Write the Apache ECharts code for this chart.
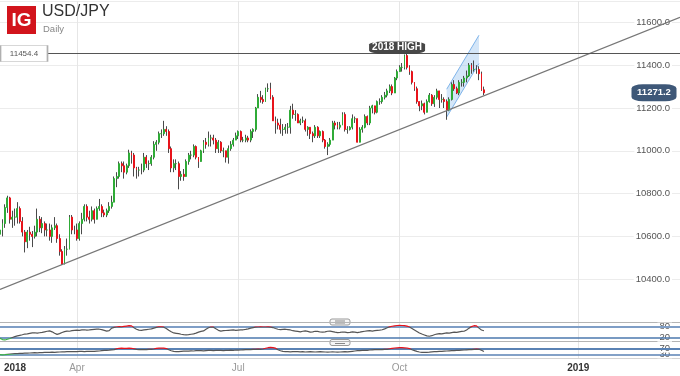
<!DOCTYPE html>
<html><head><meta charset="utf-8">
<script src="https://cdn.jsdelivr.net/npm/echarts@6/dist/echarts.min.js"></script>
<style>html,body{margin:0;padding:0;background:#fff}#c{width:680px;height:376px}</style>
</head><body><div id="c"></div>
<script>
// ---------------- DATA ----------------
const historyStart = '2018-02-16';   // first trading day shown
const futureStart = '2018-11-19';    // empty future space
const totalSlots = 275;
const firstOpen = 10610;
const closes = [
10630,10660,10735,10780,10680,10690,10690,10730,10670,10620,
10575,10620,10610,10600,10620,10680,10640,10660,10630,10630,
10600,10640,10650,10590,10530,10470,10540,10540,10690,10630,
10630,10590,10660,10680,10740,10690,10680,10720,10680,10730,
10740,10710,10700,10720,10740,10760,10870,10880,10940,10930,
10900,10930,10990,10980,10920,10910,10910,10910,10970,10940,
10940,10970,11030,11040,11080,11080,11100,11090,11010,10920,
10940,10940,10880,10890,10880,10950,10980,10980,11020,10970,
10950,11000,11040,11030,11060,11060,11050,11010,11040,11000,
11000,10970,11010,11030,11050,11070,11090,11050,11050,11060,
11050,11090,11100,11200,11250,11240,11230,11290,11290,11250,
11140,11130,11120,11100,11100,11110,11110,11190,11170,11170,
11130,11140,11140,11100,11110,11080,11070,11110,11070,11090,
11050,11020,11030,11050,11130,11120,11110,11120,11170,11100,
11100,11110,11150,11150,11040,11100,11110,11160,11130,11200,
11210,11180,11230,11230,11250,11260,11280,11300,11270,11340,
11370,11390,11390,11445,11390,11370,11320,11290,11230,11210,
11220,11180,11230,11260,11220,11250,11280,11240,11240,11230,
11190,11240,11310,11290,11270,11320,11320,11340,11350,11400,
11380,11380,11380,11360,11285,11271.2];
const highs = [
10645,10680,10750,10790,10785,10720,10730,10760,10740,10690,
10630,10630,10645,10625,10650,10730,10695,10690,10670,10660,
10660,10655,10690,10660,10610,10540,10555,10590,10700,10700,
10650,10660,10670,10710,10750,10750,10720,10740,10730,10740,
10775,10750,10725,10730,10760,10790,10880,10900,10950,10950,
10950,10940,11005,11000,10990,10925,10925,10940,10990,10980,
10955,10980,11045,11050,11090,11100,11140,11115,11100,11020,
10960,10960,10950,10905,10915,10960,10990,11000,11030,11025,
10970,11005,11050,11060,11090,11075,11075,11060,11050,11045,
11015,11000,11025,11045,11060,11085,11095,11095,11065,11075,
11070,11100,11105,11205,11265,11280,11260,11295,11315,11318,
11260,11160,11150,11150,11125,11125,11130,11210,11220,11190,
11175,11150,11160,11150,11115,11110,11090,11120,11115,11095,
11095,11055,11040,11060,11140,11140,11135,11135,11180,11180,
11115,11115,11170,11160,11150,11110,11120,11170,11165,11210,
11215,11210,11235,11245,11260,11275,11290,11310,11310,11345,
11380,11400,11410,11450,11454,11400,11375,11320,11300,11230,
11235,11225,11240,11270,11265,11260,11290,11280,11265,11250,
11240,11250,11320,11330,11300,11330,11335,11350,11375,11410,
11410,11422,11400,11395,11370,11300];
const lows = [
10555,10600,10640,10710,10660,10640,10650,10660,10660,10600,
10525,10545,10580,10550,10590,10600,10620,10615,10600,10600,
10580,10570,10630,10570,10510,10467,10470,10510,10540,10610,
10610,10580,10580,10610,10670,10670,10660,10670,10660,10680,
10720,10690,10690,10690,10710,10730,10760,10830,10870,10900,
10870,10890,10920,10940,10880,10870,10880,10890,10900,10920,
10910,10930,10960,11000,11030,11060,11070,11070,10990,10900,
10900,10910,10820,10860,10860,10880,10935,10960,10970,10960,
10920,10950,10990,11010,11020,11020,11030,10990,10990,10990,
10970,10945,10940,11000,11020,11050,11055,11040,11040,11040,
11040,11040,11060,11090,11200,11225,11220,11230,11275,11240,
11140,11080,11100,11080,11070,11080,11080,11080,11150,11140,
11130,11120,11130,11090,11070,11055,11040,11060,11060,11060,
11040,11010,10980,11020,11050,11100,11100,11100,11120,11090,
11080,11095,11100,11130,11040,11040,11085,11105,11120,11120,
11175,11170,11175,11215,11220,11240,11250,11270,11260,11270,
11330,11370,11370,11380,11380,11355,11310,11280,11220,11185,
11190,11170,11180,11225,11210,11205,11240,11200,11225,11200,
11145,11185,11235,11280,11265,11260,11300,11300,11320,11345,
11360,11370,11360,11330,11280,11260];
const osc1 = [
17,10,8,12,16,21, 26,30,33,36,40,41, 44,46,47,45,47,49,52,55, 57,52,44,38,
42,48,53,56,55,58,60, 61,60,62,63,61,62,64,65,66, 66,64,60,56,58,
72,76,78,80,79,81,83,85,84, 74,66,61,60,62,64,66, 68,72,76,79,79,77,
70,60,52,46,44, 42,39,37,36,37, 39,41,45,50,54,57, 66,74,78,77, 68,60,56,58,59,
60,61,62,60,61,62,63,65,68, 72,75,77,78,79,78,78,79,77,75, 70,66,64,65,66,64,62,
58,56,54,52,55,57,54,50,52,55,54,51,50,52,55,56, 53,50,48,49,51,50,48,49,52,50,48,50,
53,55,57,58,56,58,60,61,63, 68,74,79,82,84,86,87,86,85,83, 78,70,62,54,46,40,35,
30,28,31, 36,40,42,41,44,46,45,48,50,49,52,54,55, 62,72,80,85,84, 72,62,58];
const osc2 = [
28,26,27,29,31,33, 34,35,36,37,38,38,39,40,41,40,41,42,43,43,44,45,44,45,
46,47,47,48,48,49,48,49,50,50,49,50,51,50,51,52,53, 55,57,58,59,61,63,
68,72,73,72,71,73,72,68, 64,62,63,63,62,64,65,67, 71,73,74,73,70,62, 55,50,48,49,
51,52,53,52,54,53,55,56,55,54,56,57,58,56,57,58,57,56,58,57,59,58,60,59,60,61,62,63,
63,64,65,66,65,67, 72,76,78,77,73,
62,55,50,49,48,47,48,48,49,47,48,46,47,48,47,46,47,48,
47,46,45,46,47,46,45,46,47,48,47,49,
51,53,55,56,57,58,58,60,61,62,63,62,63,64,65,68,
72,74,75,76,76,75,74,70, 62,56,50,46,44,43,44,45,
47,48,49,50,51,52,53,54,55,56,57,58,59,60,61,62,63, 65,66,65,58,49];
const tickDates = ['2018-04-02','2018-07-02','2018-10-01','2019-01-01'];
const tickLabels = ['Apr','Jul','Oct','2019'];
const yMin = 10200, yMax = 11700, yStep = 200;
const highLevel = 11454.4;
const highText = '2018 HIGH';
const highTextDate = '2018-09-28';
const trendValues = [10352, 11624];          // at first and last slot
const channelDates = ['2018-10-26','2018-11-14'];
const channelUpper = [11288, 11540];
const channelLower = [11158, 11408];
const osc1Levels = [80, 20];
const osc2Levels = [70, 30];

// ---------------- BUILD ----------------
const FONT = '"Liberation Sans", Arial, Helvetica, sans-serif';
const categories = [];
(function(){
  let d = new Date(historyStart + 'T00:00:00Z');
  while (categories.length < closes.length) {
    const w = d.getUTCDay();
    if (w !== 0 && w !== 6) categories.push(d.toISOString().slice(0,10));
    d.setUTCDate(d.getUTCDate()+1);
  }
  d = new Date(futureStart + 'T00:00:00Z');
  while (categories.length < totalSlots) {
    if (d.getUTCDay() !== 0) categories.push(d.toISOString().slice(0,10));
    d.setUTCDate(d.getUTCDate()+1);
  }
})();
const tickMap = {};
tickDates.forEach((d,k)=>{ tickMap[d] = tickLabels[k]; });
const lastCat = categories[categories.length-1];
const opens = closes.map((c,i)=> i===0 ? firstOpen : closes[i-1]);
const wickData = closes.map((c,i)=>[lows[i], highs[i], lows[i], highs[i]]);
const bodyData = closes.map((c,i)=>[opens[i], c, Math.min(opens[i],c), Math.max(opens[i],c)]);
const lastClose = closes[closes.length-1];

const splitInt = (i, v) => tickMap[v] !== undefined;
function xAx(grid, lineColor, showLabel){
  return {
    gridIndex: grid, type:'category', data: categories, boundaryGap:false,
    axisLine:{show:true, lineStyle:{color:lineColor, width:1}},
    axisTick:{show:false},
    splitLine:{show:true, interval: splitInt, lineStyle:{color:'#e6e6e6', width:1}},
    axisLabel: showLabel ? {
      show:true, margin:5, interval:(i,v)=> i===0 || tickMap[v]!==undefined,
      formatter:(v,i)=>{
        if (i===0) return '{first|' + v.slice(0,4) + '}';
        const t = tickMap[v];
        return /^\d{4}$/.test(t) ? '{yr|'+t+'}' : '{mo|'+t+'}';
      },
      rich:{
        first:{color:'#333', fontWeight:'bold', fontSize:10, fontFamily:FONT, padding:[0,0,0,30]},
        yr:{color:'#333', fontWeight:'bold', fontSize:10, fontFamily:FONT},
        mo:{color:'#999', fontSize:10, fontFamily:FONT}
      }
    } : {show:false}
  };
}
function paneY(grid, mn, mx, vals, show){
  return {gridIndex:grid, type:'value', position:'right', min:mn, max:mx, show: show!==false,
    axisLine:{show:false}, axisTick:{show:false}, splitLine:{show:false},
    axisLabel:{inside:true, margin:8, customValues: vals, hideOverlap:false,
      color:'#555', fontSize:9.5, lineHeight:8, fontFamily:FONT, backgroundColor:'#fff', padding:[0,2]}};
}
function oscSeries(xi, data, levels, colors){
  return {type:'line', xAxisIndex:xi, yAxisIndex:xi, data: data.map((v,i)=>[categories[i], v]),
    symbol:'none', lineStyle:{width:1.2}, silent:true, z:3,
    markLine:{silent:true, symbol:['none','none'], label:{show:false}, animation:false, z:2,
      data:[{yAxis:levels[0], lineStyle:{color:colors[0], width:2, type:'solid'}},
            {yAxis:levels[1], lineStyle:{color:colors[1], width:1.5, type:'solid'}}]}};
}

const chart = echarts.init(document.getElementById('c'));
chart.setOption({
  animation:false,
  backgroundColor:'#fff',
  textStyle:{fontFamily:FONT},
  grid:[
    {left:0, right:0, top:1, height:321},
    {left:0, right:0, top:322, height:20},
    {left:0, right:0, top:342, height:16}
  ],
  xAxis:[ xAx(0,'#b4b4b4',false), xAx(1,'#b4b4b4',false), xAx(2,'#d4d4d4',true) ],
  yAxis:[
    {gridIndex:0, type:'value', position:'right', min:yMin, max:yMax, interval:yStep,
      axisLine:{show:false}, axisTick:{show:false},
      splitLine:{lineStyle:{color:'#ececec'}},
      axisLabel:{inside:true, margin:8, showMinLabel:false, showMaxLabel:false, color:'#555', fontSize:9.5, fontFamily:FONT,
        backgroundColor:'#fff', padding:[0,2], formatter:v=> (v===yMin||v===yMax) ? '' : v.toFixed(1)}},
    paneY(1, -3, 105, osc1Levels),
    paneY(2, 4, 116, [osc2Levels[1]]),
    paneY(2, 4, 116, [osc2Levels[0]])
  ],
  visualMap:[
    {show:false, type:'piecewise', seriesIndex:5, dimension:1,
      pieces:[{gt:osc1Levels[0], color:'#e8131b'},{lt:osc1Levels[1], color:'#3cb043'},{gte:osc1Levels[1], lte:osc1Levels[0], color:'#555'}]},
    {show:false, type:'piecewise', seriesIndex:6, dimension:1,
      pieces:[{gt:osc2Levels[0], color:'#e8131b'},{lt:osc2Levels[1], color:'#3cb043'},{gte:osc2Levels[1], lte:osc2Levels[0], color:'#555'}]}
  ],
  series:[
    {type:'candlestick', xAxisIndex:0, yAxisIndex:0, data:wickData, barWidth:0.5, silent:true, z:2,
      itemStyle:{color:'#4a4a4a', color0:'#4a4a4a', borderColor:'#4a4a4a', borderColor0:'#4a4a4a', borderWidth:1},
      markLine:{silent:true, symbol:['none','none'], label:{show:false}, animation:false,
        lineStyle:{color:'#555', width:1, type:'solid'}, data:[{yAxis:highLevel}]}},
    {type:'candlestick', xAxisIndex:0, yAxisIndex:0, data:bodyData, barWidth:1.4, silent:true, z:3,
      itemStyle:{color:'#2fab37', color0:'#e8131b', borderColor:'#2fab37', borderColor0:'#e8131b', borderWidth:1}},
    {type:'custom', xAxisIndex:0, yAxisIndex:0, z:1, silent:true, data:[[0, channelLower[0]]],
      renderItem:(params, api)=>{
        const i0 = categories.indexOf(channelDates[0]), i1 = categories.indexOf(channelDates[1]);
        const u0 = api.coord([i0, channelUpper[0]]), u1 = api.coord([i1, channelUpper[1]]);
        const l0 = api.coord([i0, channelLower[0]]), l1 = api.coord([i1, channelLower[1]]);
        return {type:'group', children:[
          {type:'polygon', shape:{points:[l0,u0,u1,l1]}, style:{fill:'rgba(160,200,240,0.45)'}},
          {type:'line', shape:{x1:u0[0],y1:u0[1],x2:u1[0],y2:u1[1]}, style:{stroke:'#7fb4ea', lineWidth:1}},
          {type:'line', shape:{x1:l0[0],y1:l0[1],x2:l1[0],y2:l1[1]}, style:{stroke:'#7fb4ea', lineWidth:1}}
        ]};
      }},
    {type:'line', xAxisIndex:0, yAxisIndex:0, z:4, silent:true, symbol:'none',
      data:[[categories[0], trendValues[0]], [lastCat, trendValues[1]]],
      lineStyle:{color:'#777', width:1.3}},
    {type:'scatter', xAxisIndex:0, yAxisIndex:0, z:6, silent:true, data:[],
      markPoint:{silent:true, animation:false, data:[
        {coord:[categories[0], highLevel], symbol:'rect', symbolSize:[47,16], symbolOffset:[24,0],
          itemStyle:{color:'#fff', borderColor:'#b0b0b0', borderWidth:1},
          label:{show:true, position:'inside', formatter: highLevel.toFixed(1), color:'#555', fontSize:8, fontFamily:FONT}},
        {coord:[highTextDate, highLevel], symbol:'roundRect', symbolSize:[56,12], symbolOffset:[0,-6],
          itemStyle:{color:'rgba(55,55,55,0.92)'},
          label:{show:true, position:'inside', formatter: highText, color:'#fff', fontWeight:'bold', fontSize:10, fontFamily:FONT}},
        {coord:[lastCat, lastClose], symbol:'roundRect', symbolSize:[45,17], symbolOffset:[-26,0],
          itemStyle:{color:'#3e5878'},
          label:{show:true, position:'inside', formatter: lastClose.toFixed(1), color:'#fff', fontWeight:'bold', fontSize:9.5, fontFamily:FONT}}
      ]}},
    oscSeries(1, osc1, osc1Levels, ['#7f9ec6','#4b79ae']),
    oscSeries(2, osc2, osc2Levels, ['#5a82b4','#5a82b4'])
  ],
  graphic:[
    {type:'rect', z:100, shape:{x:7, y:6, width:29, height:28}, style:{fill:'#d2141c'}},
    {type:'text', z:101, x:21.5, y:21, style:{text:'IG', fill:'#fff', font:'bold 19px '+FONT, align:'center', verticalAlign:'middle'}},
    {type:'text', z:101, x:42, y:4, style:{text:'USD/JPY', fill:'#333', font:'16px '+FONT, verticalAlign:'top'}},
    {type:'text', z:101, x:43, y:24, style:{text:'Daily', fill:'#888', font:'9.5px '+FONT, verticalAlign:'top'}},
    {type:'group', z:100, children:[
      {type:'rect', shape:{x:330, y:319, width:20, height:6, r:2}, style:{fill:'#f6f6f6', stroke:'#999', lineWidth:1}},
      {type:'line', shape:{x1:335, y1:321, x2:345, y2:321}, style:{stroke:'#888', lineWidth:1}},
      {type:'line', shape:{x1:335, y1:323, x2:345, y2:323}, style:{stroke:'#888', lineWidth:1}},
      {type:'rect', shape:{x:330, y:339.5, width:20, height:6, r:2}, style:{fill:'#f6f6f6', stroke:'#999', lineWidth:1}},
      {type:'line', shape:{x1:335, y1:341.5, x2:345, y2:341.5}, style:{stroke:'#888', lineWidth:1}},
      {type:'line', shape:{x1:335, y1:343.5, x2:345, y2:343.5}, style:{stroke:'#888', lineWidth:1}}
    ]}
  ]
});
</script>
</body></html>
